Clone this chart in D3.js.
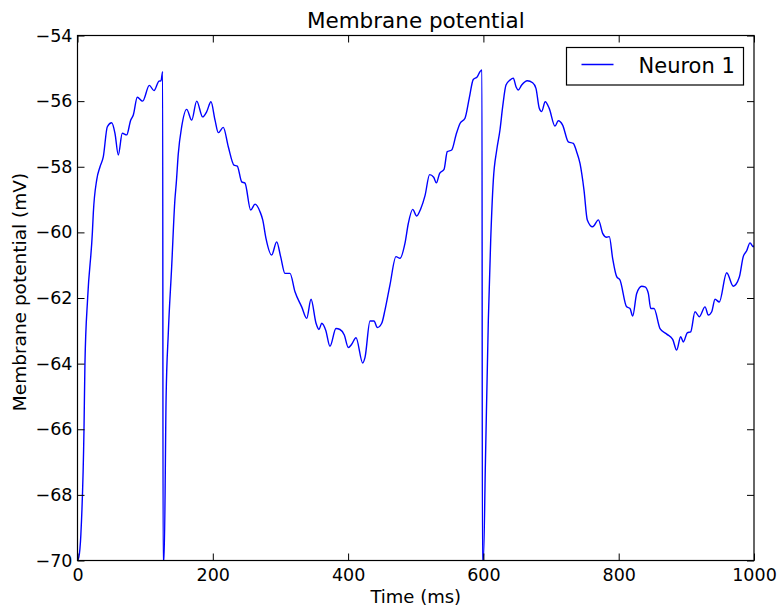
<!DOCTYPE html>
<html>
<head>
<meta charset="utf-8">
<script src="https://cdn.jsdelivr.net/npm/d3@7"></script>
<style>
  body { margin: 0; background: #fff; }
  text { font-family: "DejaVu Sans", sans-serif; fill: #000; }
</style>
</head>
<body>
<div id="chart"></div>
<script>
const timeMs = [
  0, 2, 5, 9.6, 11, 15, 22, 23.4, 28.4, 33.3, 38.1, 44.1, 50.5, 55.4, 60.3, 66.2,
  72.7, 78.6, 82.5, 88.4, 96.3, 106.2, 113.1, 120.5, 123.4, 125.9, 126.5, 128,
  131, 134.2, 139.2, 144, 146, 149, 154, 161.4, 168.8, 176.2, 185, 191, 197.3,
  203.3, 208.1, 215.5, 222.9, 231.3, 236.2, 242.7, 247.6, 256, 262.4, 269.8,
  273.8, 278.6, 287, 294.4, 300.3, 306.7, 314.1, 321.5, 331.4, 338.8, 345.2,
  352.6, 357, 361, 366.9, 373.2, 382.1, 388, 394.4, 400.3, 405.3, 411.7, 421.6,
  425, 432.4, 438.3, 443.2, 449.7, 454.5, 461.9, 470.8, 476.7, 484.1, 489, 495.5,
  501.4, 507, 513.7, 520.5, 526.5, 530.5, 535.3, 541.8, 546.6, 553.1, 559.5,
  565.4, 572.8, 579.1, 585, 590.9, 595, 597.9, 598.5, 600, 603, 607.3, 610.8,
  614.7, 619.7, 624.5, 628.5, 633.4, 639.3, 644.2, 648.2, 651.6, 656.6, 664.9,
  672.8, 677.7, 682.6, 686.1, 691.4, 697.3, 705.8, 710.7, 717.1, 725.5, 732.9,
  737.8, 742.8, 748.7, 753.6, 761.5, 770, 776.3, 782.2, 786.1, 791.1, 797, 801.9,
  811.7, 816.7, 820.7, 826.6, 834, 838.9, 843.8, 847.4, 852.2, 861.1, 871, 879.8,
  885.7, 891.6, 895.5, 901.4, 906.4, 912.8, 919.2, 927.6, 932.5, 937.5, 942.4,
  948.7, 959.6, 969.4, 978.2, 984.1, 989.2, 994.1, 999, 1000
];
const potentialMv = [
  -70, -69.9, -69.2, -66, -64, -62, -60, -59.4, -58.4, -58.0, -57.7, -56.78,
  -56.66, -56.98, -57.64, -56.98, -57.03, -56.58, -56.42, -55.88, -56.0, -55.52,
  -55.68, -55.39, -55.38, -55.1, -70, -70, -65, -63.08, -61.05, -59.0, -58.5,
  -57.6, -56.78, -56.25, -56.58, -56.0, -56.48, -56.32, -56.02, -56.58, -56.96,
  -56.8, -57.39, -57.95, -57.98, -58.46, -58.5, -59.32, -59.14, -59.37, -59.62,
  -60.18, -60.69, -60.29, -60.74, -61.25, -61.25, -61.81, -62.27, -62.62, -62.04,
  -62.77, -62.96, -62.77, -62.98, -63.47, -62.93, -62.96, -63.13, -63.51, -63.41,
  -63.21, -63.98, -63.81, -62.7, -62.7, -62.9, -62.77, -62.37, -61.6, -60.74,
  -60.79, -60.33, -59.73, -59.3, -59.5, -59.3, -58.88, -58.24, -58.32, -58.49,
  -58.2, -58.08, -57.54, -57.49, -57.03, -56.68, -56.52, -55.91, -55.34, -55.26,
  -55.1, -55.05, -70, -70, -67, -62.67, -60.23, -58.4, -57.49, -56.88, -56.17,
  -55.51, -55.36, -55.3, -55.56, -55.66, -55.51, -55.38, -55.44, -55.61, -56.22,
  -56.32, -56.02, -56.22, -56.76, -56.6, -56.73, -57.24, -57.29, -57.54, -57.9,
  -58.71, -59.62, -59.83, -59.62, -60.03, -60.15, -60.13, -60.8, -61.35, -61.45,
  -62.27, -62.32, -62.55, -61.86, -61.64, -61.66, -61.86, -62.32, -62.32, -62.93,
  -63.1, -63.26, -63.59, -63.18, -63.34, -63.06, -63.03, -62.42, -62.57, -62.27,
  -62.52, -62.42, -62.04, -62.12, -61.23, -61.64, -61.37, -60.74, -60.56, -60.32,
  -60.44, -60.4
];
const xTicks = [0, 200, 400, 600, 800, 1000];
const yTicks = [-54, -56, -58, -60, -62, -64, -66, -68, -70];
const seriesName = "Neuron 1";

const margin = { top: 35.5, right: 26, bottom: 46.5, left: 77.5 };
const width = 780 - margin.left - margin.right;
const height = 607 - margin.top - margin.bottom;

const svg = d3.select("#chart")
  .append("svg")
  .attr("width", 780)
  .attr("height", 607);

const g = svg.append("g")
  .attr("transform", "translate(" + margin.left + "," + margin.top + ")");

const x = d3.scaleLinear().domain([0, 1000]).range([0, width]);
const y = d3.scaleLinear().domain([-70, -54]).range([height, 0]);

const pts = timeMs.map((t, i) => [t, potentialMv[i]]);

g.append("defs").append("clipPath").attr("id", "clip")
  .append("rect").attr("width", width).attr("height", height + 1).attr("y", -0.5);

// the trace
g.append("path")
  .datum(pts)
  .attr("clip-path", "url(#clip)")
  .attr("fill", "none")
  .attr("stroke", "#0000ff")
  .attr("stroke-width", 1.4)
  .attr("stroke-linejoin", "round")
  .attr("d", d3.line().x(d => x(d[0])).y(d => y(d[1])).curve(d3.curveMonotoneX));

// axes, ticks pointing inward
const fmt = d3.format("d");
const tickLen = 7;

const xb = g.append("g")
  .attr("transform", `translate(0,${height})`)
  .call(d3.axisBottom(x).tickValues(xTicks).tickFormat(fmt)
    .tickSizeInner(-tickLen).tickSizeOuter(0).tickPadding(8));
const xt = g.append("g")
  .call(d3.axisTop(x).tickValues(xTicks).tickFormat("")
    .tickSizeInner(-tickLen).tickSizeOuter(0));
const yl = g.append("g")
  .call(d3.axisLeft(y).tickValues(yTicks).tickFormat(fmt)
    .tickSizeInner(-tickLen).tickSizeOuter(0).tickPadding(5));
const yr = g.append("g")
  .attr("transform", `translate(${width},0)`)
  .call(d3.axisRight(y).tickValues(yTicks).tickFormat("")
    .tickSizeInner(-tickLen).tickSizeOuter(0));

[xb, xt, yl, yr].forEach(a => {
  a.select(".domain").remove();
  a.selectAll("line").attr("stroke", "#000").attr("stroke-width", 1);
  a.selectAll("text").style("font-family", "DejaVu Sans").style("font-size", "17.5px").attr("fill", "#000");
});

// frame
g.append("rect")
  .attr("width", width)
  .attr("height", height)
  .attr("fill", "none")
  .attr("stroke", "#000")
  .attr("stroke-width", 1.2);

// title and labels
svg.append("text")
  .attr("x", margin.left + width / 2)
  .attr("y", 28)
  .attr("text-anchor", "middle")
  .style("font-size", "21.5px")
  .text("Membrane potential");

svg.append("text")
  .attr("x", margin.left + width / 2)
  .attr("y", 603)
  .attr("text-anchor", "middle")
  .style("font-size", "18px")
  .text("Time (ms)");

svg.append("text")
  .attr("transform", "translate(26,292) rotate(-90)")
  .attr("text-anchor", "middle")
  .style("font-size", "18.5px")
  .text("Membrane potential (mV)");

// legend
const lg = svg.append("g").attr("transform", "translate(566.5,47.5)");
lg.append("rect")
  .attr("width", 177)
  .attr("height", 37.5)
  .attr("fill", "#fff")
  .attr("stroke", "#000")
  .attr("stroke-width", 1.2);
lg.append("line")
  .attr("x1", 15).attr("x2", 47)
  .attr("y1", 17).attr("y2", 17)
  .attr("stroke", "#0000ff")
  .attr("stroke-width", 1.4);
lg.append("text")
  .attr("x", 72)
  .attr("y", 25)
  .style("font-size", "21px")
  .text(seriesName);
</script>
</body>
</html>
